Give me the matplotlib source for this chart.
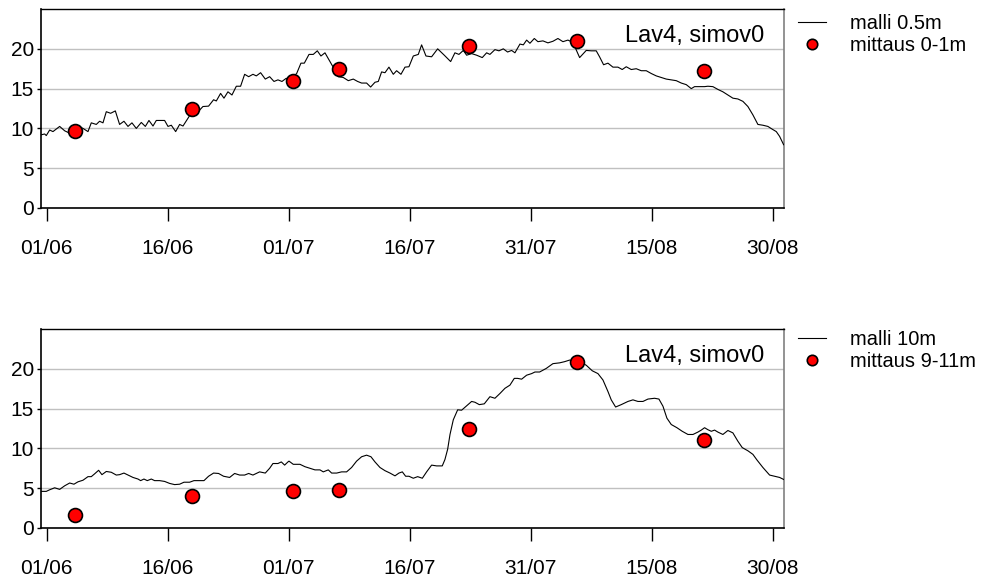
import numpy as np
import matplotlib
matplotlib.use("Agg")
import matplotlib.pyplot as plt
import matplotlib.dates as mdates

plt.rcParams['font.family'] = ['Liberation Sans', 'DejaVu Sans']

# aika = päiviä 01/06 jälkeen
tick_labels = ['01/06', '16/06', '01/07', '16/07', '31/07', '15/08', '30/08']
tick_days = [0, 15, 30, 45, 60, 75, 90]

# malli 0.5m
top_days = [-0.67, -0.25, -0.05, 0.37, 0.78, 1.61, 2.23, 2.85, 3.26, 3.67, 4.09, 4.50, 5.12, 5.53,
            6.15, 6.56, 6.98, 7.39, 7.93, 8.51, 9.04, 9.58, 10.08, 10.57, 11.11, 11.73, 12.23, 12.68,
            13.18, 13.59, 14.62, 15.04, 15.45, 15.99, 16.48, 16.90, 17.72, 18.34, 18.96, 19.37, 20.07,
            20.69, 21.03, 21.56, 21.98, 22.47, 22.97, 23.51, 24.04, 24.54, 25.04, 25.57, 25.99, 26.52,
            27.10, 27.64, 28.18, 28.67, 29.17, 29.70,
            29.95, 30.37, 30.99, 31.52, 31.94, 32.52, 33.05, 33.55, 34.00, 34.50, 35.12, 35.74, 36.15,
            36.77, 37.39, 38.01, 38.55, 39.04, 39.66, 40.16, 40.70, 41.11, 41.52, 41.94, 42.43, 42.97,
            43.38, 43.92, 44.42, 44.91, 45.45, 46.07, 46.48, 47.02, 47.72, 48.47, 49.29, 50.08, 50.61,
            51.11, 51.65, 52.06, 52.68, 53.30, 54.00, 54.54, 54.95, 55.57, 56.07, 56.61, 57.14, 57.64,
            58.05, 58.67, 59.09, 59.50, 59.91, 60.45,
            60.90, 61.52, 62.14, 62.76, 63.38, 64.00, 64.62, 65.24, 66.07, 66.89, 67.51, 68.13, 68.54,
            69.04, 69.58, 70.20, 70.82, 71.35, 71.85, 72.47, 73.09, 73.71, 74.33, 74.95, 75.57, 76.19,
            76.81, 77.43, 78.05, 78.67, 79.29, 79.91, 80.32, 80.94, 81.56, 81.97, 82.59, 83.21, 83.83,
            84.45, 85.07, 85.69, 86.31, 86.93, 87.55, 88.17, 88.79, 89.41, 89.95, 90.45, 90.86, 91.36]
top_model = [9.2, 9.3, 9.1, 9.8, 9.6, 10.25, 9.7, 9.4, 10.2, 9.8, 10.2, 10.0, 9.6, 10.7,
             10.5, 10.9, 10.7, 12.1, 11.9, 12.2, 10.5, 10.9, 10.25, 10.7, 10.0, 10.75, 10.25, 11.0,
             10.3, 11.0, 11.0, 10.25, 10.4, 9.6, 10.5, 10.3, 11.6, 12.1, 12.3, 12.75, 12.8,
             13.6, 13.45, 14.4, 13.8, 14.6, 14.2, 15.3, 15.3, 16.8, 16.5, 16.8, 16.6, 17.0,
             16.2, 16.5, 15.9, 16.1, 15.9, 16.3,
             16.1, 16.3, 16.9, 18.2, 18.2, 19.3, 19.3, 19.75, 19.1, 19.5, 18.4, 17.3, 16.5,
             16.4, 16.0, 16.2, 15.9, 15.7, 15.7, 15.2, 15.8, 15.9, 17.1, 17.0, 17.7, 16.8,
             17.25, 16.8, 17.7, 17.75, 19.1, 19.3, 20.5, 19.1, 19.0, 20.0, 19.2, 18.4, 19.5,
             19.3, 19.8, 19.2, 19.4, 19.2, 18.9, 19.5, 19.3, 19.9, 19.75, 20.0, 19.6, 19.8,
             19.5, 20.6, 20.5, 21.1, 20.7, 21.3,
             20.9, 21.0, 20.75, 20.95, 21.3, 20.9, 21.1, 20.8, 18.9, 19.8, 19.75, 19.75, 19.0,
             18.0, 18.2, 17.7, 17.7, 17.4, 17.75, 17.4, 17.5, 17.25, 17.25, 16.9, 16.6, 16.4,
             16.2, 16.1, 16.0, 15.7, 15.5, 15.0, 15.25, 15.25, 15.25, 15.3, 15.25, 14.9, 14.6,
             14.2, 13.8, 13.7, 13.4, 12.75, 11.7, 10.5, 10.4, 10.25, 9.9, 9.6, 9.0, 7.95]

# malli 10m
bot_days = [-0.67, -0.05, 0.37, 0.99, 1.61, 2.23, 2.85, 3.38, 3.88, 4.50, 5.12, 5.53, 5.94, 6.44,
            6.85, 7.39, 8.01, 8.63, 9.04, 9.58, 10.08, 10.70, 11.32, 11.65, 12.06, 12.47, 12.97,
            13.38, 14.00, 14.62, 15.24, 15.86, 16.48, 17.02, 17.72, 18.26, 18.75, 19.50, 20.07,
            20.69, 21.31, 21.93, 22.68, 23.30, 23.92, 24.54, 25.04, 25.57, 26.40, 27.10, 27.64,
            28.05, 28.67, 29.09, 29.50, 29.91,
            30.04, 30.57, 31.40, 32.02, 32.64, 33.26, 33.88, 34.29, 34.91, 35.33, 35.95, 36.56,
            37.18, 37.80, 38.42, 39.04, 39.66, 40.20, 40.70, 41.32, 41.94, 42.56, 43.18, 43.67,
            44.09, 44.50, 44.91, 45.45, 45.99, 46.57, 47.10, 47.72, 48.34, 49.04, 49.37, 49.71,
            50.00, 50.41, 50.95, 51.44, 52.06, 52.68, 53.09, 53.63, 54.25, 54.95, 55.57, 56.19,
            56.81, 57.43, 57.97, 58.38, 58.88, 59.50, 60.12, 60.53,
            61.11, 61.93, 62.76, 63.59, 64.21, 64.83, 66.07, 66.89, 67.64, 68.34, 68.96, 69.58,
            69.99, 70.53, 71.23, 72.06, 72.68, 73.30, 73.92, 74.54, 75.36, 75.90, 76.40, 76.89,
            77.43, 78.13, 78.79, 79.50, 80.12, 80.73, 81.15, 81.56, 81.97, 82.39, 82.80, 83.21,
            83.83, 84.45, 85.07, 85.69, 86.23, 86.93, 87.55, 88.05, 88.79, 89.62, 90.24, 90.86, 91.36]
bot_model = [4.6, 4.6, 4.8, 5.05, 4.85, 5.3, 5.65, 5.5, 5.8, 6.0, 6.45, 6.45, 6.8, 7.25,
             6.7, 7.1, 7.0, 6.65, 6.7, 6.9, 6.65, 6.35, 6.15, 5.95, 6.15, 5.95, 6.15,
             5.95, 5.95, 5.85, 5.6, 5.45, 5.5, 5.75, 5.75, 5.95, 5.95, 5.95, 6.5,
             6.9, 6.85, 6.5, 6.35, 6.85, 6.65, 6.65, 6.85, 6.65, 7.05, 6.9, 7.5,
             8.1, 8.1, 8.3, 7.9, 8.3,
             8.4, 8.0, 8.0, 7.7, 7.5, 7.3, 7.3, 7.05, 7.3, 6.9, 6.9, 7.05,
             7.05, 7.6, 8.4, 8.95, 9.15, 8.95, 8.3, 7.6, 7.2, 6.9, 6.55, 6.9,
             7.05, 6.5, 6.5, 6.25, 6.45, 6.25, 7.05, 7.9, 7.8, 7.8, 8.6, 9.9,
             11.75, 13.6, 14.85, 14.8, 15.35, 15.9, 15.8, 15.5, 15.6, 16.5, 16.3, 16.9,
             17.55, 17.95, 18.8, 18.8, 18.7, 19.2, 19.4, 19.6,
             19.6, 20.05, 20.65, 20.75, 20.9, 21.1, 20.9, 20.45, 19.75, 19.4, 18.6, 17.15,
             16.1, 15.2, 15.5, 15.9, 16.1, 15.9, 15.9, 16.2, 16.3, 16.2, 15.3, 13.8,
             13.0, 12.6, 12.15, 11.75, 11.75, 12.05, 12.3, 12.6, 12.35, 12.15, 12.3, 12.05,
             11.75, 12.25, 11.95, 10.9, 10.1, 9.7, 9.25, 8.55, 7.6, 6.65, 6.5, 6.35, 6.1]

# mittaukset
meas_days = [3.5, 18.0, 30.5, 36.3, 52.3, 65.7, 81.5]
meas_top = [9.7, 12.5, 16.0, 17.5, 20.4, 21.0, 17.2]
meas_bot = [1.6, 4.0, 4.6, 4.8, 12.4, 20.9, 11.1]

base = mdates.date2num(np.datetime64('2009-06-01'))

fig = plt.figure(figsize=(9.84, 5.8), dpi=100)
ax1 = fig.add_axes([0.0417, 0.6414, 0.755, 0.343])
ax2 = fig.add_axes([0.0417, 0.0897, 0.755, 0.343])

panels = [
    (ax1, top_days, top_model, meas_top, 'malli 0.5m', 'mittaus 0-1m', 0.976),
    (ax2, bot_days, bot_model, meas_bot, 'malli 10m', 'mittaus 9-11m', 0.431),
]

for ax, d, m, meas, lab1, lab2, legy in panels:
    ax.plot(base + np.array(d), m, color='black', lw=0.8, label=lab1, zorder=3)
    ax.plot(base + np.array(meas_days), meas, 'o', color='red', mec='black', mew=1.2,
            ms=10, label=lab2, zorder=4)
    ax.set_ylim(0, 25)
    ax.set_yticks([0, 5, 10, 15, 20])
    ax.set_xlim(base - 0.7, base + 91.4)
    ax.set_xticks(base + np.array(tick_days))
    ax.set_xticklabels(tick_labels)
    ax.grid(axis='y', color='#c0c0c0', lw=1)
    ax.set_axisbelow(True)
    ax.tick_params(axis='x', direction='out', length=9, width=1, pad=13, labelsize=15)
    ax.tick_params(axis='y', direction='out', length=3, width=1, pad=2, labelsize=15)
    ax.spines['left'].set_linewidth(1.2)
    ax.spines['bottom'].set_linewidth(1.2)
    ax.spines['top'].set_linewidth(1.0)
    ax.spines['right'].set_color('#808080')
    ax.spines['right'].set_linewidth(1.2)
    ax.text(0.973, 0.865, 'Lav4, simov0', transform=ax.transAxes, ha='right', va='center',
            fontsize=17)
    ax.legend(loc='upper left', bbox_to_anchor=(0.811, legy), bbox_transform=fig.transFigure,
              frameon=False, fontsize=14.5, handlelength=1.4, handletextpad=1.2,
              labelspacing=0.15, borderpad=0, borderaxespad=0, markerscale=0.75)

fig.savefig('out.png', dpi=100)
